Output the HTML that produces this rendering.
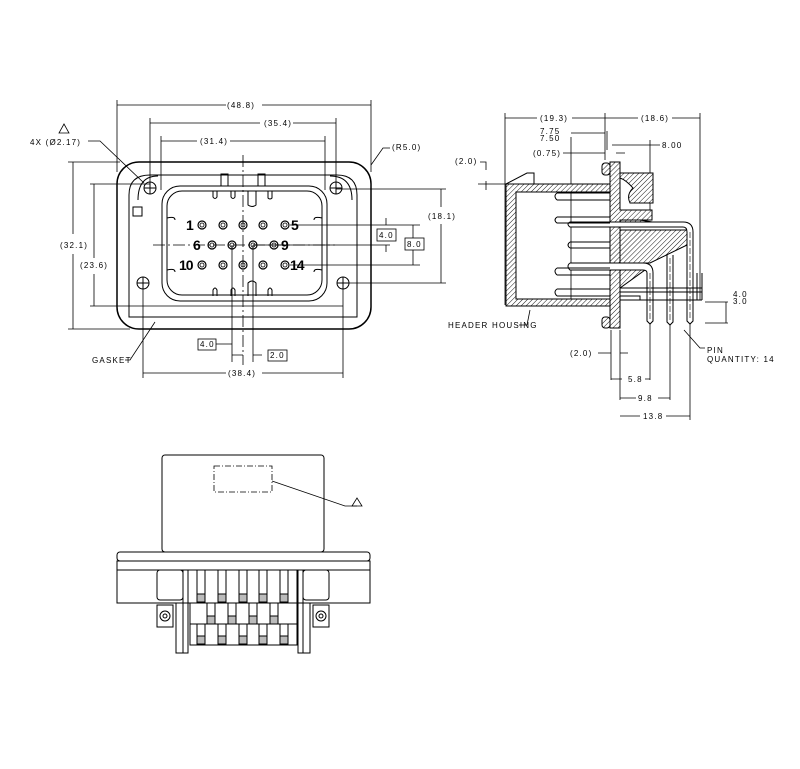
<!DOCTYPE html>
<html><head><meta charset="utf-8"><style>
html,body{margin:0;padding:0;background:#fff;}
svg{display:block;}
text{font-family:"Liberation Sans",sans-serif;font-size:8px;letter-spacing:1.2px;fill:#000;stroke:none;}
text.big{font-size:14px;letter-spacing:-1px;font-weight:bold;}
</style></head><body>
<svg width="800" height="769" viewBox="0 0 800 769" xmlns="http://www.w3.org/2000/svg" fill="none" stroke="#000" stroke-width="1">
<defs>
<pattern id="h" patternUnits="userSpaceOnUse" width="3.5" height="3.5" patternTransform="rotate(45)">
<rect width="3.5" height="3.5" fill="#fff" stroke="none"/><line x1="0" y1="0" x2="0" y2="3.5" stroke="#000" stroke-width="0.9"/></pattern>
</defs>

<!-- ===== FRONT VIEW ===== -->
<rect x="117" y="162" width="254" height="167" rx="22" stroke-width="1.5"/>
<path d="M129,317 L357,317 L357,195 Q357,175 337,175 L150,175 Q129,175 129,195 Z"/>
<path d="M138,200 Q138,176 158,176 M330,176 Q352,176 352,200"/>
<rect x="162" y="186" width="165" height="115" rx="18"/>
<rect x="167" y="191" width="155" height="104" rx="15"/>
<rect x="133" y="207" width="9" height="9"/>
<path d="M221,186 V174 H228 V186 M258,186 V174 H265 V186"/>
<path d="M213,191 V197 Q215,200 217,197 V191 M231,191 V197 Q233,200 235,197 V191 M248,191 V205 Q252,208 256,205 V191 M268,191 V198 Q270,200 272,198 V191"/>
<path d="M213,296 V290 Q215,286 217,290 V296 M231,296 V290 Q233,286 235,290 V296 M248,296 V283 Q252,279 256,283 V296 M268,296 V290 Q270,286 272,290 V296"/>
<path d="M167,218 Q175,216 175,220 M322,218 Q314,216 314,220 M167,270 Q175,268 175,272 M322,270 Q314,268 314,272"/>
<g>
<circle cx="150" cy="188" r="6"/><circle cx="336" cy="188" r="6"/><circle cx="143" cy="283" r="6"/><circle cx="343" cy="283" r="6"/>
<path d="M144,188H156M150,182V194M330,188H342M336,182V194M137,283H149M143,277V289M337,283H349M343,277V289"/>
</g>
<g stroke-width="1.2">
<circle cx="202" cy="225" r="4"/><circle cx="223" cy="225" r="4"/><circle cx="243" cy="225" r="4"/><circle cx="263" cy="225" r="4"/><circle cx="285" cy="225" r="4"/>
<circle cx="212" cy="245" r="4"/><circle cx="232" cy="245" r="4"/><circle cx="253" cy="245" r="4"/><circle cx="274" cy="245" r="4"/>
<circle cx="202" cy="265" r="4"/><circle cx="223" cy="265" r="4"/><circle cx="243" cy="265" r="4"/><circle cx="263" cy="265" r="4"/><circle cx="285" cy="265" r="4"/>
</g>
<g fill="none" stroke-width="0.8"><circle cx="202" cy="225" r="2"/><circle cx="223" cy="225" r="2"/><circle cx="243" cy="225" r="2"/><circle cx="263" cy="225" r="2"/><circle cx="285" cy="225" r="2"/><circle cx="212" cy="245" r="2"/><circle cx="232" cy="245" r="2"/><circle cx="253" cy="245" r="2"/><circle cx="274" cy="245" r="2"/><circle cx="202" cy="265" r="2"/><circle cx="223" cy="265" r="2"/><circle cx="243" cy="265" r="2"/><circle cx="263" cy="265" r="2"/><circle cx="285" cy="265" r="2"/></g>
<text class="big" x="186" y="230">1</text><text class="big" x="291" y="230">5</text><text class="big" x="193" y="250">6</text><text class="big" x="281" y="250">9</text><text class="big" x="179" y="270">10</text><text class="big" x="290" y="270">14</text>
<path d="M243,155 V365 M153,245 H335" stroke-dasharray="12,3,2,3" stroke-width="0.8"/>
<g stroke-width="0.8">
<path d="M117,100 V172 M371,100 V172 M150,118 V185 M336,118 V185 M161,136 V190 M325,136 V190"/>
<path d="M117,105 H226 M262,105 H371"/>
<path d="M150,123 H260 M293,123 H336"/>
<path d="M161,141 H197 M230,141 H325"/>
<path d="M68,162 H120 M68,329 H130 M73,162 V234 M73,254 V329 M90,184 H150 M90,306 H343 M94,184 V258 M94,274 V306"/>
<path d="M336,189 H446 M343,283 H446 M441,189 V207 M441,224 V283"/>
<path d="M290,225 H420 M290,265 H420 M413,225 V238 M413,250 V265 M386,218 V225 M386,245 V252 M253,245 H390"/>
<path d="M232,245 V362 M253,245 V362 M243,355 H232 M253,355 H262 M216,344 H232"/>
<path d="M143,289 V378 M343,289 V378 M143,373 H226 M262,373 H343"/>
<path d="M371,165 L383,148 H390"/>
<path d="M88,141 H100 L144,183"/>
<path d="M125,360 H130 L155,322"/>
</g>
<text x="227" y="108">(48.8)</text>
<text x="264" y="126">(35.4)</text>
<text x="200" y="144">(31.4)</text>
<text x="392" y="150">(R5.0)</text>
<text x="30" y="145">4X (Ø2.17)</text>
<path d="M64,124 L59,133 H69 Z" stroke-width="0.8"/>
<text x="60" y="248">(32.1)</text>
<text x="80" y="268">(23.6)</text>
<text x="428" y="219">(18.1)</text>
<rect x="377" y="229" width="19" height="12" stroke-width="0.8"/><text x="379" y="238">4.0</text>
<rect x="405" y="238" width="19" height="12" stroke-width="0.8"/><text x="407" y="247">8.0</text>
<rect x="198" y="339" width="18" height="11" stroke-width="0.8"/><text x="200" y="347">4.0</text>
<rect x="268" y="350" width="19" height="11" stroke-width="0.8"/><text x="270" y="358">2.0</text>
<text x="228" y="376">(38.4)</text>
<text x="92" y="363">GASKET</text>

<!-- ===== SIDE VIEW ===== -->
<g stroke-width="0.8">
<path d="M505,113 V305 M605,113 V160 M700,113 V300"/>
<path d="M505,118 H537 M572,118 H605 M605,118 H638 M672,118 H700"/>
<path d="M571,133 H605 M571,137 V305 M607,131 V150 M612,145 H660 M650,140 V220"/>
<path d="M563,153 H605 M616,153 H625"/>
<path d="M480,162 H486 V170 M486,181 V190 M478,184 H506"/>
<path d="M705,302 H728 M705,323 H728 M726,302 V323"/>
<path d="M611,330 V380 M620,330 V400 M650,323 V380 M670,323 V400 M690,323 V420 M611,353 H598 M620,353 H628 M611,379 H622 M645,379 H650 M620,398 H636 M658,398 H670 M620,416 H640 M666,416 H690"/>
<path d="M519,325 H527 L530,310 M684,330 L700,348 H705"/>
</g>
<path d="M506,184 H610 V192 H516 V299 H610 V306 H506 Z" fill="url(#h)"/>
<path d="M506,184 L527,173 H534 V184" />
<path d="M610,162 H620 V210 H652 V220 H620 V328 H610 Z" fill="url(#h)"/>
<rect x="602" y="163" width="8" height="12" rx="3" fill="url(#h)"/>
<rect x="602" y="317" width="8" height="11" rx="3" fill="url(#h)"/>
<path d="M620,173 H653 V203 H630 Q626,195 633,188 Q626,180 620,178Z" fill="url(#h)"/>
<path d="M620,220 H640 L683,227 H620Z" fill="url(#h)"/>
<path d="M620,230 H687 V245 L650,263 H620Z" fill="url(#h)"/>
<path d="M620,270 H645 L620,288Z" fill="url(#h)"/>
<path d="M557,193 H610 M557,200 H610 M557,200 Q553,196 557,193"/>
<path d="M570,222 H683 Q693,222 693,232 V321 L690,324 L687,321 V232 Q687,227 683,227 H570 Q566,224 570,222" fill="#fff"/>
<path d="M557,217 H610 M557,217 Q553,220 557,223 H610"/>
<path d="M570,242 H610 M570,248 H610 M570,242 Q566,245 570,248"/>
<path d="M570,263 H643 Q653,263 653,273 V321 L650,324 L647,321 V273 Q647,270 643,270 H570 Q566,266 570,263" fill="#fff"/>
<path d="M557,268 H610 M557,275 H610 M557,268 Q553,271 557,275"/>
<path d="M557,289 H610 M557,296 H610 M557,289 Q553,292 557,296"/>
<path d="M667,255 V322 L670,325 L673,322 V255" fill="#fff"/>
<path d="M690,232 V320 M650,273 V320 M670,258 V320" stroke-dasharray="6,2" stroke-width="0.6"/>
<path d="M620,288 H702 M620,292 H702 M620,300 H702 M697,273 V300 M702,273 V300 M620,296 H640 V300"/>
<text x="540" y="121">(19.3)</text>
<text x="641" y="121">(18.6)</text>
<text x="540" y="134">7.75</text>
<text x="540" y="141">7.50</text>
<text x="533" y="156">(0.75)</text>
<text x="662" y="148">8.00</text>
<text x="455" y="164">(2.0)</text>
<text x="733" y="297">4.0</text>
<text x="733" y="304">3.0</text>
<text x="448" y="328">HEADER HOUSING</text>
<text x="570" y="356">(2.0)</text>
<text x="707" y="353">PIN</text>
<text x="707" y="362">QUANTITY: 14</text>
<text x="628" y="382">5.8</text>
<text x="638" y="401">9.8</text>
<text x="643" y="419">13.8</text>

<!-- ===== BOTTOM VIEW ===== -->
<rect x="162" y="455" width="162" height="97" rx="3"/>
<rect x="214" y="466" width="58" height="26" stroke-dasharray="6,2,1,2" stroke-width="0.8"/>
<path d="M272,481 L345,506 H357" stroke-width="0.8"/>
<path d="M357,498 L352,506 H362 Z" stroke-width="0.8"/>
<rect x="117" y="552" width="253" height="9" rx="3"/>
<rect x="117" y="561" width="253" height="42"/>
<path d="M117,570 H370"/>
<rect x="157" y="570" width="26" height="30" rx="3"/>
<rect x="303" y="570" width="26" height="30" rx="3"/>
<path d="M183,570 V653 H188 V570 M188,570 V645 M298,570 V653 H303 V570 M297,570 V645"/>
<path d="M176,603 V653 H183 M310,603 V653 H303"/>
<path d="M157,605 H173 V627 H157 Z M313,605 H329 V627 H313 Z"/>
<circle cx="165" cy="616" r="5"/><circle cx="165" cy="616" r="2"/>
<circle cx="321" cy="616" r="5"/><circle cx="321" cy="616" r="2"/>
<path d="M190,603 H297 V645 H190 Z M190,624 H297"/>
<path d="M197,570 V594 M205,570 V594 M218,570 V594 M226,570 V594 M239,570 V594 M247,570 V594 M259,570 V594 M267,570 V594 M280,570 V594 M288,570 V594"/>
<path d="M207,603 V616 M215,603 V616 M228,603 V616 M236,603 V616 M249,603 V616 M257,603 V616 M270,603 V616 M278,603 V616"/>
<path d="M197,624 V636 M205,624 V636 M218,624 V636 M226,624 V636 M239,624 V636 M247,624 V636 M259,624 V636 M267,624 V636 M280,624 V636 M288,624 V636"/>
<g fill="#bbb" stroke="#000">
<rect x="197" y="594" width="8" height="8"/><rect x="218" y="594" width="8" height="8"/><rect x="239" y="594" width="8" height="8"/><rect x="259" y="594" width="8" height="8"/><rect x="280" y="594" width="8" height="8"/>
<rect x="207" y="616" width="8" height="8"/><rect x="228" y="616" width="8" height="8"/><rect x="249" y="616" width="8" height="8"/><rect x="270" y="616" width="8" height="8"/>
<rect x="197" y="636" width="8" height="8"/><rect x="218" y="636" width="8" height="8"/><rect x="239" y="636" width="8" height="8"/><rect x="259" y="636" width="8" height="8"/><rect x="280" y="636" width="8" height="8"/>
</g>
</svg>
</body></html>
